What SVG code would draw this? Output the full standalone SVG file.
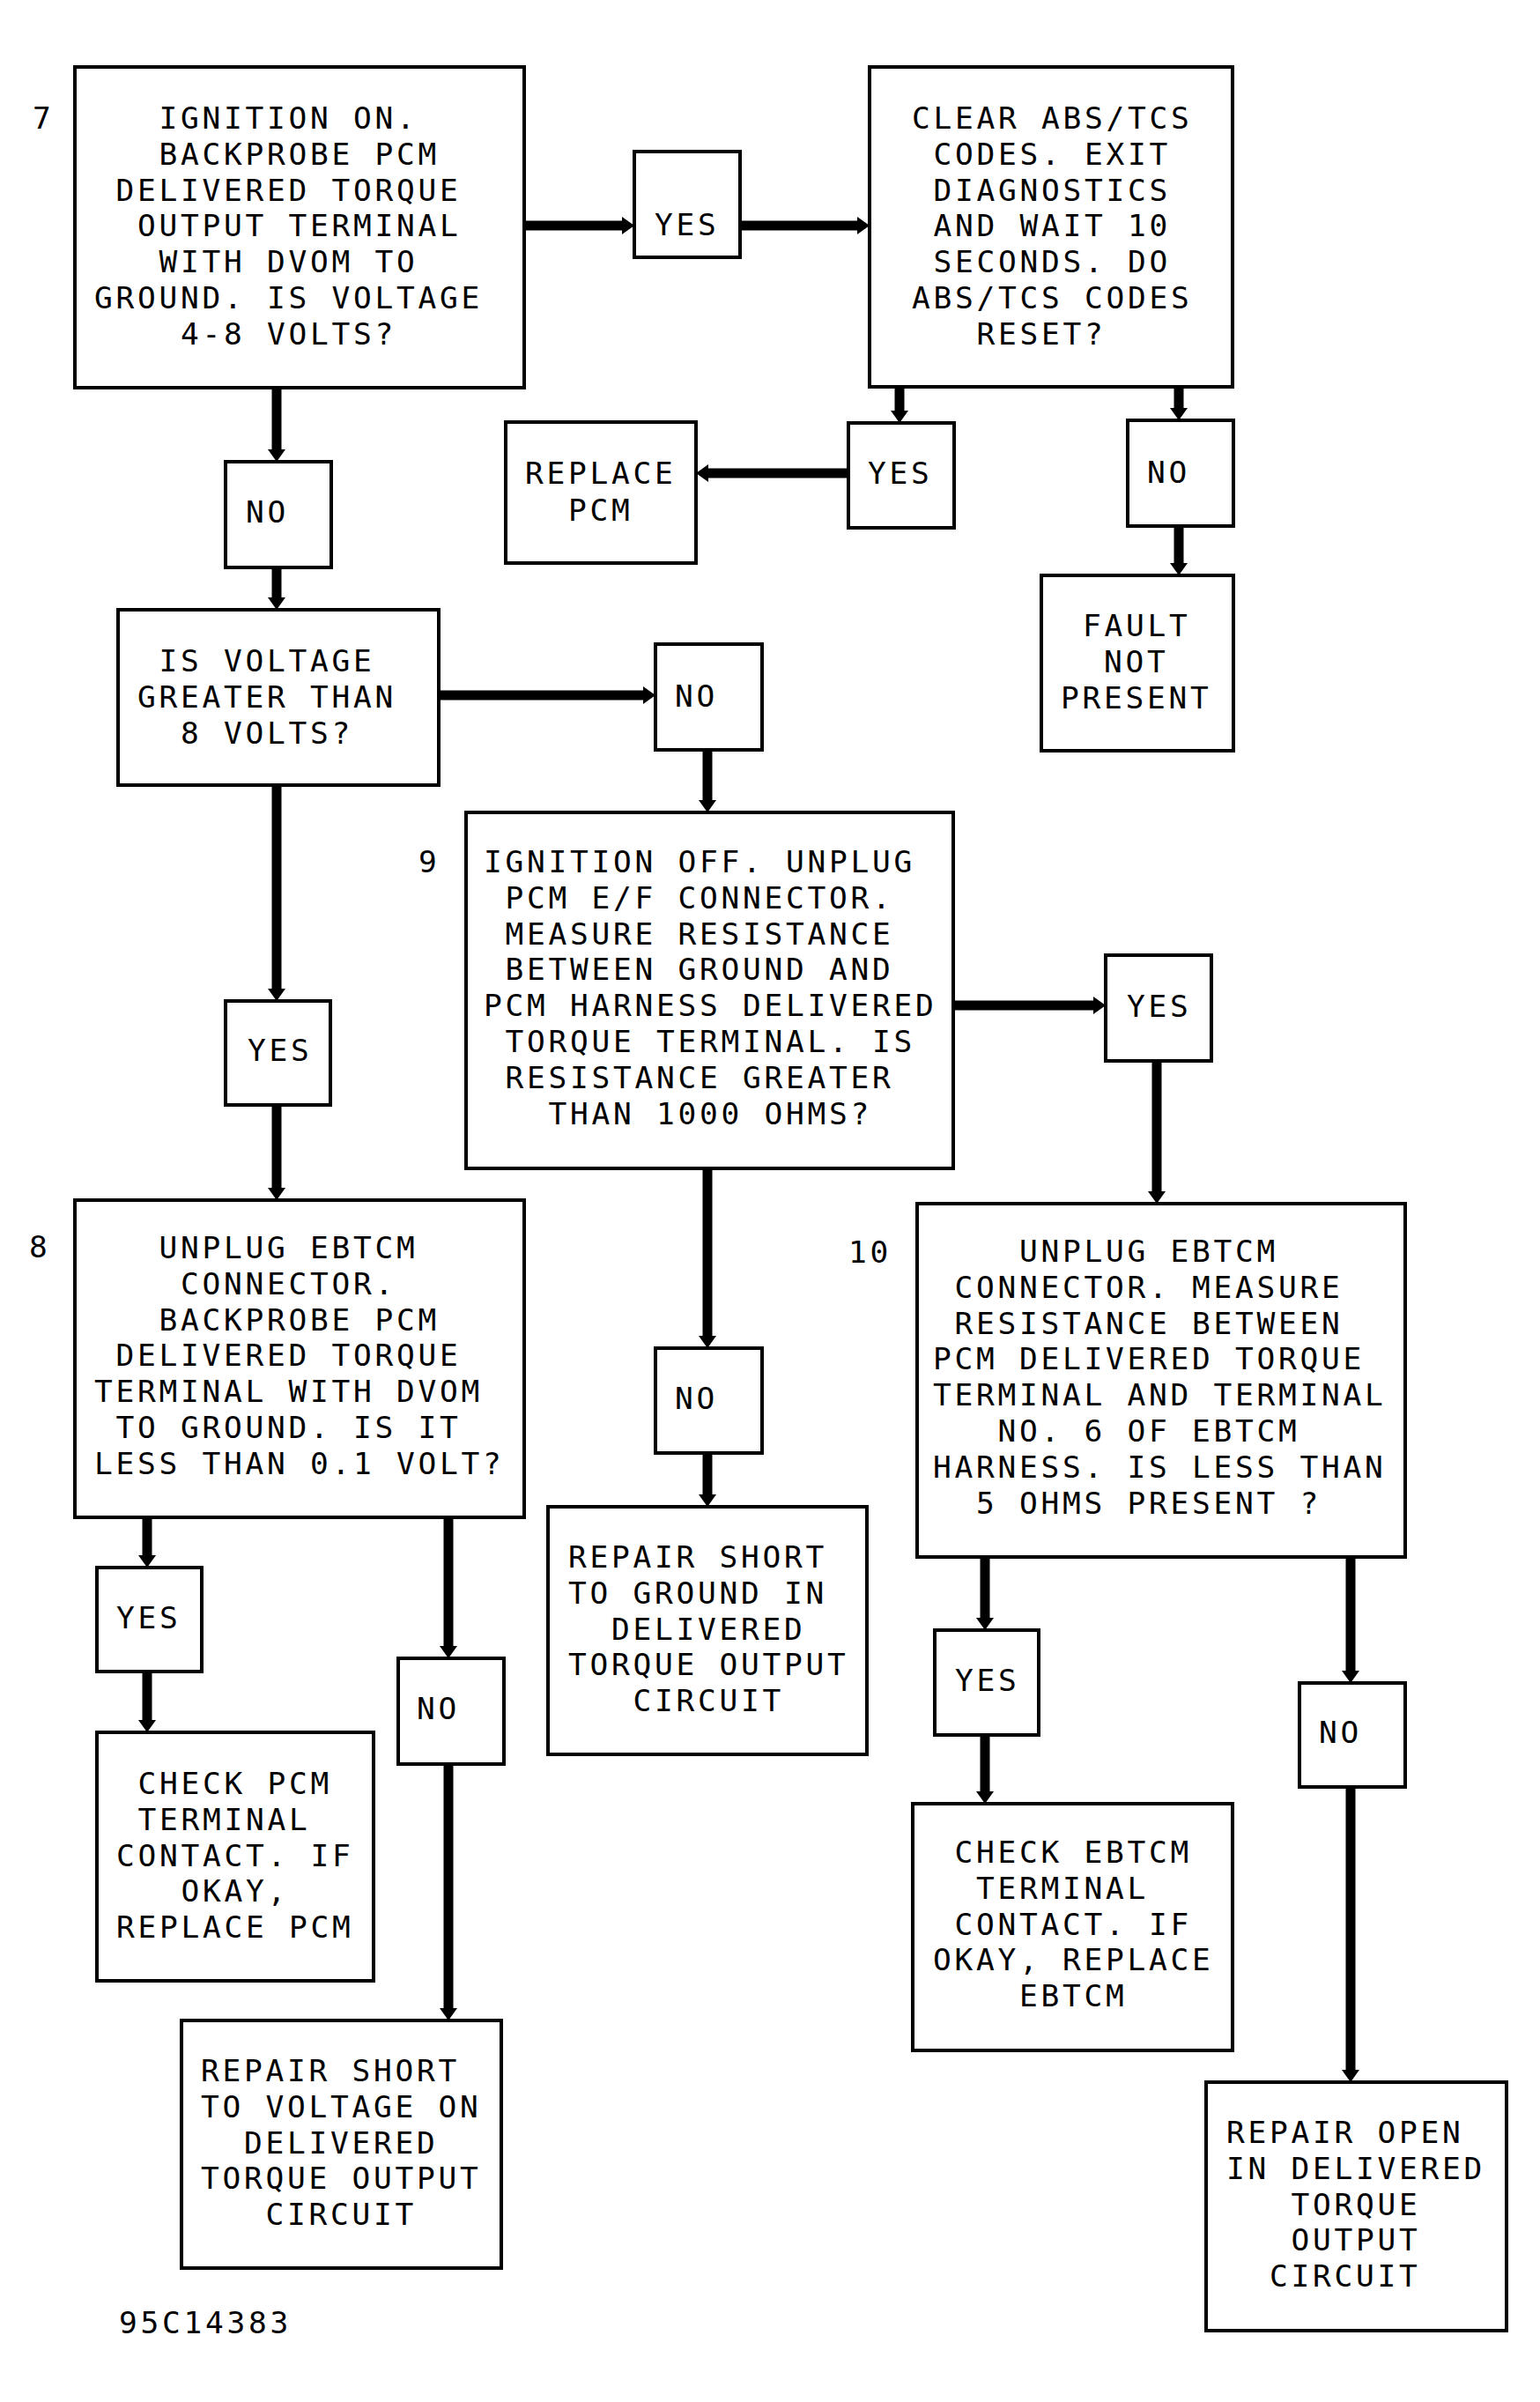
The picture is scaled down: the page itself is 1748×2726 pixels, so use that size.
<svg xmlns="http://www.w3.org/2000/svg" width="1748" height="2726" viewBox="0 0 1748 2726">
<style>
.box{fill:#fff;stroke:#000;stroke-width:4}
.t{font-family:"DejaVu Sans Mono","Liberation Mono",monospace;font-size:34.5px;letter-spacing:3.73px;fill:#000}
.c{stroke:#000;stroke-width:11;fill:none;marker-end:url(#ah)}
</style>
<defs>
<marker id="ah" viewBox="0 0 14 20" refX="0" refY="10" markerWidth="14" markerHeight="20" markerUnits="userSpaceOnUse" orient="auto">
<path d="M0,0 L14,10 L0,20 Z" fill="#000"/>
</marker>
</defs>
<rect x="0" y="0" width="1748" height="2726" fill="#fff"/>

<g id="connectors">
<line class="c" x1="595" y1="256" x2="706" y2="256"/>
<line class="c" x1="840" y1="256" x2="973" y2="256"/>
<line class="c" x1="1021" y1="439" x2="1021" y2="466"/>
<line class="c" x1="1338" y1="439" x2="1338" y2="463"/>
<line class="c" x1="963" y1="537" x2="804" y2="537"/>
<line class="c" x1="1338" y1="597" x2="1338" y2="639"/>
<line class="c" x1="314" y1="440" x2="314" y2="510"/>
<line class="c" x1="314" y1="644" x2="314" y2="678"/>
<line class="c" x1="498" y1="789" x2="730" y2="789"/>
<line class="c" x1="803" y1="851" x2="803" y2="908"/>
<line class="c" x1="314" y1="891" x2="314" y2="1122"/>
<line class="c" x1="314" y1="1254" x2="314" y2="1348"/>
<line class="c" x1="1082" y1="1141" x2="1241" y2="1141"/>
<line class="c" x1="1313" y1="1204" x2="1313" y2="1352"/>
<line class="c" x1="803" y1="1326" x2="803" y2="1516"/>
<line class="c" x1="803" y1="1649" x2="803" y2="1696"/>
<line class="c" x1="167" y1="1722" x2="167" y2="1765"/>
<line class="c" x1="167" y1="1897" x2="167" y2="1952"/>
<line class="c" x1="509" y1="1722" x2="509" y2="1868"/>
<line class="c" x1="509" y1="2002" x2="509" y2="2279"/>
<line class="c" x1="1118" y1="1767" x2="1118" y2="1836"/>
<line class="c" x1="1118" y1="1969" x2="1118" y2="2033"/>
<line class="c" x1="1533" y1="1767" x2="1533" y2="1896"/>
<line class="c" x1="1533" y1="2028" x2="1533" y2="2349"/>
</g>

<g id="step7">
<rect class="box" x="85" y="76" width="510" height="364"/>
<text class="t" x="37" y="146">7</text>
<text class="t"><tspan x="180.5" y="146">IGNITION ON.</tspan><tspan x="180.5" y="186.8">BACKPROBE PCM</tspan><tspan x="131.5" y="227.6">DELIVERED TORQUE</tspan><tspan x="156" y="268.4">OUTPUT TERMINAL</tspan><tspan x="180.5" y="309.2">WITH DVOM TO</tspan><tspan x="107" y="350">GROUND. IS VOLTAGE</tspan><tspan x="205" y="390.8">4-8 VOLTS?</tspan></text>
</g>

<g id="yes7">
<rect class="box" x="720" y="172" width="120" height="120"/>
<text class="t" x="743" y="267">YES</text>
</g>

<g id="clear">
<rect class="box" x="987" y="76" width="412" height="363"/>
<text class="t"><tspan x="1035" y="146">CLEAR ABS/TCS</tspan><tspan x="1059.5" y="186.8">CODES. EXIT</tspan><tspan x="1059.5" y="227.6">DIAGNOSTICS</tspan><tspan x="1059.5" y="268.4">AND WAIT 10</tspan><tspan x="1059.5" y="309.2">SECONDS. DO</tspan><tspan x="1035" y="350">ABS/TCS CODES</tspan><tspan x="1108.5" y="390.8">RESET?</tspan></text>
</g>

<g id="yesClear">
<rect class="box" x="963" y="480" width="120" height="119"/>
<text class="t" x="985" y="549">YES</text>
</g>

<g id="noClear">
<rect class="box" x="1280" y="477" width="120" height="120"/>
<text class="t" x="1302" y="548">NO</text>
</g>

<g id="replacePcm">
<rect class="box" x="574" y="479" width="216" height="160"/>
<text class="t"><tspan x="596" y="549">REPLACE</tspan><tspan x="645" y="591">PCM</tspan></text>
</g>

<g id="faultNotPresent">
<rect class="box" x="1182" y="653" width="218" height="199"/>
<text class="t"><tspan x="1229" y="722">FAULT</tspan><tspan x="1253" y="763">NOT</tspan><tspan x="1204" y="804">PRESENT</tspan></text>
</g>

<g id="no7">
<rect class="box" x="256" y="524" width="120" height="120"/>
<text class="t" x="279" y="593">NO</text>
</g>

<g id="isVoltage">
<rect class="box" x="134" y="692" width="364" height="199"/>
<text class="t"><tspan x="180.5" y="762">IS VOLTAGE</tspan><tspan x="156" y="802.8">GREATER THAN</tspan><tspan x="205" y="843.6">8 VOLTS?</tspan></text>
</g>

<g id="noVoltage">
<rect class="box" x="744" y="731" width="121" height="120"/>
<text class="t" x="766" y="802">NO</text>
</g>

<g id="yesVoltage">
<rect class="box" x="256" y="1136" width="119" height="118"/>
<text class="t" x="281" y="1204">YES</text>
</g>

<g id="step9">
<rect class="box" x="529" y="922" width="553" height="404"/>
<text class="t" x="475" y="990">9</text>
<text class="t"><tspan x="549" y="990">IGNITION OFF. UNPLUG</tspan><tspan x="573.5" y="1030.8">PCM E/F CONNECTOR.</tspan><tspan x="573.5" y="1071.6">MEASURE RESISTANCE</tspan><tspan x="573.5" y="1112.4">BETWEEN GROUND AND</tspan><tspan x="549" y="1153.2">PCM HARNESS DELIVERED</tspan><tspan x="573.5" y="1194">TORQUE TERMINAL. IS</tspan><tspan x="573.5" y="1234.8">RESISTANCE GREATER</tspan><tspan x="622.5" y="1275.6">THAN 1000 OHMS?</tspan></text>
</g>

<g id="yes9">
<rect class="box" x="1255" y="1084" width="120" height="120"/>
<text class="t" x="1279" y="1154">YES</text>
</g>

<g id="no9">
<rect class="box" x="744" y="1530" width="121" height="119"/>
<text class="t" x="766" y="1599">NO</text>
</g>

<g id="repairShortGround">
<rect class="box" x="622" y="1710" width="362" height="281"/>
<text class="t"><tspan x="645" y="1779">REPAIR SHORT</tspan><tspan x="645" y="1819.8">TO GROUND IN</tspan><tspan x="694" y="1860.6">DELIVERED</tspan><tspan x="645" y="1901.4">TORQUE OUTPUT</tspan><tspan x="718.5" y="1942.2">CIRCUIT</tspan></text>
</g>

<g id="step8">
<rect class="box" x="85" y="1362" width="510" height="360"/>
<text class="t" x="33" y="1427">8</text>
<text class="t"><tspan x="180.5" y="1428">UNPLUG EBTCM</tspan><tspan x="205" y="1468.8">CONNECTOR.</tspan><tspan x="180.5" y="1509.6">BACKPROBE PCM</tspan><tspan x="131.5" y="1550.4">DELIVERED TORQUE</tspan><tspan x="107" y="1591.2">TERMINAL WITH DVOM</tspan><tspan x="131.5" y="1632">TO GROUND. IS IT</tspan><tspan x="107" y="1672.8">LESS THAN 0.1 VOLT?</tspan></text>
</g>

<g id="yes8">
<rect class="box" x="110" y="1779" width="119" height="118"/>
<text class="t" x="132" y="1848">YES</text>
</g>

<g id="no8">
<rect class="box" x="452" y="1882" width="120" height="120"/>
<text class="t" x="473" y="1951">NO</text>
</g>

<g id="checkPcm">
<rect class="box" x="110" y="1966" width="314" height="282"/>
<text class="t"><tspan x="156.5" y="2036">CHECK PCM</tspan><tspan x="156.5" y="2076.8">TERMINAL</tspan><tspan x="132" y="2117.6">CONTACT. IF</tspan><tspan x="205.5" y="2158.4">OKAY,</tspan><tspan x="132" y="2199.2">REPLACE PCM</tspan></text>
</g>

<g id="repairShortVoltage">
<rect class="box" x="206" y="2293" width="363" height="281"/>
<text class="t"><tspan x="228" y="2362">REPAIR SHORT</tspan><tspan x="228" y="2402.8">TO VOLTAGE ON</tspan><tspan x="277" y="2443.6">DELIVERED</tspan><tspan x="228" y="2484.4">TORQUE OUTPUT</tspan><tspan x="301.5" y="2525.2">CIRCUIT</tspan></text>
</g>

<g id="step10">
<rect class="box" x="1041" y="1366" width="554" height="401"/>
<text class="t" x="963" y="1433">10</text>
<text class="t"><tspan x="1157" y="1432">UNPLUG EBTCM</tspan><tspan x="1083.5" y="1472.8">CONNECTOR. MEASURE</tspan><tspan x="1083.5" y="1513.6">RESISTANCE BETWEEN</tspan><tspan x="1059" y="1554.4">PCM DELIVERED TORQUE</tspan><tspan x="1059" y="1595.2">TERMINAL AND TERMINAL</tspan><tspan x="1132.5" y="1636">NO. 6 OF EBTCM</tspan><tspan x="1059" y="1676.8">HARNESS. IS LESS THAN</tspan><tspan x="1108" y="1717.6">5 OHMS PRESENT ?</tspan></text>
</g>

<g id="yes10">
<rect class="box" x="1061" y="1850" width="118" height="119"/>
<text class="t" x="1084" y="1919">YES</text>
</g>

<g id="no10">
<rect class="box" x="1475" y="1910" width="120" height="118"/>
<text class="t" x="1497" y="1978">NO</text>
</g>

<g id="checkEbtcm">
<rect class="box" x="1036" y="2047" width="363" height="280"/>
<text class="t"><tspan x="1083.5" y="2114">CHECK EBTCM</tspan><tspan x="1108" y="2154.8">TERMINAL</tspan><tspan x="1083.5" y="2195.6">CONTACT. IF</tspan><tspan x="1059" y="2236.4">OKAY, REPLACE</tspan><tspan x="1157" y="2277.2">EBTCM</tspan></text>
</g>

<g id="repairOpen">
<rect class="box" x="1369" y="2363" width="341" height="282"/>
<text class="t"><tspan x="1392" y="2432">REPAIR OPEN</tspan><tspan x="1392" y="2472.8">IN DELIVERED</tspan><tspan x="1465.5" y="2513.6">TORQUE</tspan><tspan x="1465.5" y="2554.4">OUTPUT</tspan><tspan x="1441" y="2595.2">CIRCUIT</tspan></text>
</g>

<g id="figureId">
<text class="t" x="135" y="2648">95C14383</text>
</g>
</svg>
